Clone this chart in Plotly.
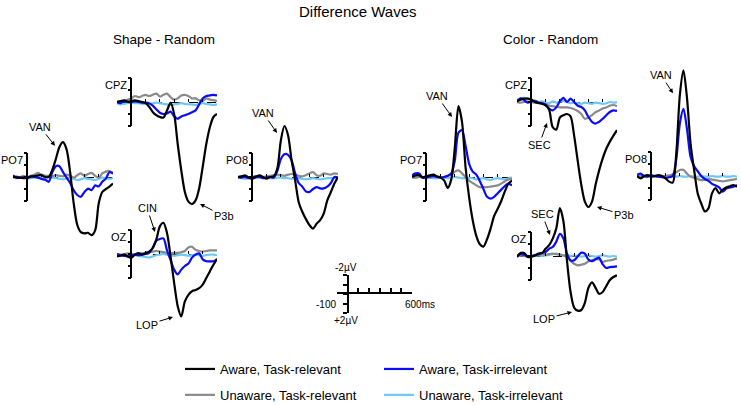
import plotly.graph_objects as go

W, H = 741, 406

# ---- data (µV, negative plotted upward as in ERP convention) ----
TIME_MS = [-100, -75, -50, -25, 0, 25, 50, 75, 100, 125, 150, 175, 200, 225,
           250, 275, 300, 325, 350, 375, 400, 425, 450, 475, 500, 525, 550, 575, 600]
TICKS_MS = [-100, 0, 100, 200, 300, 400, 500, 600]

# Shape - Random
shape_po7_ar = [0, 0.03, 0.05, 0.1, 0.08, -0.03, -0.08, -0.14, -0.14, 0, 0, -0.6, -1.5, -2.5, -2.9,
                -2.3, -0.4, 2.2, 4.0, 4.6, 4.7, 4.65, 4.85, 4.45, 2.2, 1.25, 1.0, 0.8, 0.55]
shape_po7_ai = [-0.14, 0.05, 0.08, 0, 0.05, -0.05, 0, 0.05, 0.17, 0.22, 0.4, -0.4, -0.9, -0.9, -0.4,
                0.05, 0.5, 1.1, 1.5, 1.65, 1.25, 0.97, 1.1, 0.7, 0.78, 0.4, 0.14, -0.4, -0.28]
shape_po7_ur = [0, -0.05, 0, -0.1, 0.05, -0.1, -0.2, -0.35, -0.2, -0.1, -0.1, -0.05, -0.15, -0.1, -0.05,
                -0.2, -0.1, 0.05, -0.15, -0.3, -0.1, -0.25, -0.35, -0.1, 0.05, -0.3, -0.45, -0.5, -0.35]
shape_po7_ui = [0.05, 0.1, 0.05, 0, 0.1, 0.1, 0.05, 0.05, 0.1, 0.05, 0.0, 0.05, 0.1, 0.15, 0.2,
                0.1, 0.05, 0.15, 0.25, 0.2, 0.1, 0.15, 0.2, 0.25, 0.15, 0.05, 0.1, 0.15, 0.1]

shape_cpz_ar = [0, -0.08, -0.14, -0.03, -0.08, -0.14, -0.08, 0, 0.08, 0.4, 0.83, 1.1, 1.25, 1.3, 0.7,
                0.08, 1.0, 3.5, 5.7, 7.5, 8.3, 8.5, 8.2, 7.2, 5.4, 3.5, 2.1, 1.25, 1.0]
shape_cpz_ai = [0, 0.1, -0.1, 0, 0, -0.05, 0, 0.05, 0.05, 0.1, 0.3, 0.6, 0.9, 1.0, 0.95,
                0.8, 1.2, 1.4, 1.2, 1.1, 1.0, 0.85, 0.7, 0.2, -0.3, -0.5, -0.55, -0.6, -0.55]
shape_cpz_ur = [0.1, 0, -0.1, -0.2, -0.3, -0.5, -0.4, -0.5, -0.6, -0.5, -0.6, -0.7, -0.45, -0.6, -0.7,
                -0.4, -0.2, -0.3, -0.55, -0.6, -0.5, -0.3, -0.3, -0.15, -0.1, -0.3, -0.2, -0.15, -0.1]
shape_cpz_ui = [0.1, 0.2, 0.15, 0.1, 0.05, 0.1, 0.1, 0.15, 0.15, 0.2, 0.1, 0.05, 0.1, 0.15, 0.2,
                0.25, 0.2, 0.15, 0.1, 0.15, 0.2, 0.2, 0.25, 0.15, 0.1, 0.15, 0.2, 0.25, 0.2]

shape_po8_ar = [0, -0.05, -0.14, 0.05, 0.14, 0, -0.14, 0, 0.14, 0, -0.05, -0.7, -3.05, -4.25, -3.5,
                -1.4, 0.28, 2.1, 2.9, 3.5, 4.0, 4.3, 3.9, 3.6, 3.05, 1.95, 1.25, 0.55, 0]
shape_po8_ai = [0, 0.05, 0, 0.1, 0.05, -0.05, 0, 0.1, 0.05, 0, 0.05, -0.5, -1.5, -1.9, -1.85,
                -1.4, -0.3, 0.5, 0.8, 1.2, 1.25, 1.0, 0.85, 0.95, 0.95, 0.8, 0.5, 0.0, 0.05]
shape_po8_ur = [0, -0.05, 0, 0.05, 0, -0.05, -0.1, 0, -0.05, -0.1, -0.15, -0.2, -0.15, -0.1, -0.2,
                -0.25, -0.2, -0.1, -0.05, -0.15, -0.3, -0.4, -0.15, -0.1, -0.3, -0.25, -0.2, -0.3, -0.25]
shape_po8_ui = [0.05, 0.1, 0.15, 0.1, 0.05, 0.1, 0.05, 0.0, 0.05, 0.1, 0.1, 0.05, 0.05, 0.1, 0.1,
                0.15, 0.1, 0.1, 0.15, 0.2, 0.15, 0.1, 0.15, 0.2, 0.15, 0.1, 0.1, 0.1, 0.05]

shape_oz_ar = [0.2, 0.15, 0.05, 0.2, 0.33, 0.05, -0.08, 0.05, -0.08, -0.2, -0.5, -1.2, -2.3, -2.6, -1.75,
               0.2, 2.4, 4.35, 5.2, 3.95, 3.4, 3.1, 3.0, 2.85, 2.55, 2.0, 1.45, 0.9, 0.4]
shape_oz_ai = [0, 0.1, 0.15, 0.2, 0.1, 0.05, 0.1, 0.05, 0, -0.1, -0.5, -1.1, -1.25, -1.3, -0.3,
               0.5, 1.3, 1.7, 1.3, 1.0, 0.8, 0.3, 0.05, -0.05, 0.45, 0.6, 0.62, 0.6, 0.47]
shape_oz_ur = [0, 0.05, 0, -0.05, 0, 0.05, 0, -0.05, -0.1, -0.15, -0.2, -0.25, -0.2, -0.15, -0.1,
               -0.05, -0.1, -0.1, -0.15, -0.25, -0.55, -0.6, -0.35, -0.25, -0.2, -0.25, -0.3, -0.3, -0.3]
shape_oz_ui = [0.05, 0.1, 0.15, 0.1, 0.05, 0.1, 0.15, 0.2, 0.25, 0.3, 0.2, 0.1, 0.05, 0.0, 0.05,
               0.1, 0.15, 0.1, 0.05, 0.1, 0.15, 0.1, 0.05, 0.1, 0.15, 0.1, 0.05, 0.05, 0.1]

# Color - Random
color_po7_ar = [0, -0.14, -0.14, 0.05, -0.05, -0.14, -0.2, -0.05, 0.05, 0.28, 0.9, 0.2, -2.5, -5.9, -4.6,
                -0.8, 1.7, 3.6, 4.9, 5.6, 5.8, 5.2, 4.3, 3.25, 2.65, 2.0, 1.2, 0.55, 0.3]
color_po7_ai = [-0.14, -0.3, -0.3, 0.05, 0.05, -0.05, -0.1, 0, 0.05, 0.0, -0.1, -0.3, -1.4, -3.7, -3.9,
                -2.6, -1.1, -0.45, -0.2, 0.35, 1.0, 1.65, 1.8, 1.65, 1.35, 1.05, 0.75, 0.55, 0.7]
color_po7_ur = [0, 0.05, 0, 0, -0.05, 0.05, 0, -0.05, 0, 0.0, -0.1, -0.2, -0.45, -0.55, -0.3,
                0.0, 0.3, 0.5, 0.7, 0.85, 0.85, 0.85, 0.8, 0.75, 0.7, 0.55, 0.35, 0.2, 0.15]
color_po7_ui = [0.05, 0.05, 0.0, 0.05, 0.1, 0.05, 0.1, 0.1, 0.05, 0.05, 0.1, 0.05, 0.0, 0.05, 0.1,
                0.1, 0.05, 0.1, 0.2, 0.15, 0.1, 0.2, 0.25, 0.15, 0.1, 0.15, 0.2, 0.1, 0.05]

color_cpz_ar = [-0.08, -0.2, -0.28, -0.28, -0.2, 0, 0.08, 0.14, 0.28, 0.65, 2.1, 2.3, 1.3, 1.1, 1.0,
                1.2, 2.8, 4.9, 6.9, 8.3, 8.75, 8.3, 6.9, 5.7, 4.7, 3.9, 3.3, 2.8, 2.35]
color_cpz_ai = [0, -0.3, -0.15, 0.05, -0.05, -0.1, 0.05, 0.1, 0.2, 0.55, 0.7, 0.45, -0.05, -0.35, 0.0,
                -0.28, 0.0, 0.3, 0.42, 0.7, 1.25, 1.65, 1.8, 1.65, 1.4, 1.1, 0.83, 0.7, 0.75]
color_cpz_ur = [0, 0.05, 0, -0.05, 0, 0.05, 0.1, 0.15, 0.2, 0.3, 0.35, 0.4, 0.45, 0.45, 0.45,
                0.5, 0.6, 0.75, 1.0, 1.4, 1.3, 1.1, 0.85, 0.7, 0.55, 0.45, 0.3, 0.25, 0.35]
color_cpz_ui = [-0.2, -0.3, -0.35, -0.3, -0.2, -0.1, 0.0, -0.05, 0.05, 0.1, -0.05, 0.05, 0.0, -0.1, 0.0,
                0.1, 0.05, 0.1, 0.15, 0.05, 0.1, 0.15, 0.05, 0.1, 0.15, 0.1, 0.0, 0.05, 0.0]

color_po8_ar = [0, 0.2, 0, -0.08, 0.05, 0, -0.08, 0, 0.2, 0.47, 0.55, -1.9, -6.75, -8.8, -6.5,
                -2.7, -0.5, 1.45, 2.3, 2.95, 2.7, 1.45, 1.0, 1.45, 1.15, 0.95, 0.85, 0.75, 0.9]
color_po8_ai = [-0.08, -0.2, 0.0, 0.05, -0.05, 0.0, 0.05, 0.1, 0.15, 0.1, 0.0, -1.4, -4.4, -5.6, -3.9,
                -1.6, -0.8, -0.4, 0.0, 0.25, 0.4, 0.65, 0.8, 0.95, 1.3, 1.05, 0.95, 0.9, 0.75]
color_po8_ur = [0, 0, 0.05, 0, -0.05, 0, 0.05, 0, 0, -0.05, -0.15, -0.3, -0.5, -0.5, -0.2,
                0.05, 0.15, 0.25, 0.35, 0.3, 0.25, 0.3, 0.35, 0.4, 0.45, 0.4, 0.35, 0.3, 0.25]
color_po8_ui = [0, 0.05, 0.05, 0, 0.05, 0.05, 0, 0.05, 0.05, 0.0, 0.05, 0.05, 0.0, 0.05, 0.05,
                0, 0.05, 0.05, 0.0, 0.05, 0.05, 0.0, 0.05, 0.05, 0.0, 0.05, 0.05, 0.0, 0.05]

color_oz_ar = [0.08, -0.25, -0.25, 0.08, 0.08, -0.05, -0.2, -0.25, -0.6, -0.9, -1.45, -2.3, -4.0, -2.9, 0.4,
               3.0, 4.3, 4.55, 4.5, 3.9, 2.65, 2.2, 2.65, 3.15, 3.0, 2.5, 2.0, 1.75, 1.6]
color_oz_ai = [0, -0.15, -0.1, 0.05, 0, -0.05, -0.15, -0.25, -0.33, -0.6, -0.75, -1.2, -1.85, -1.45, -0.2,
               0.36, 0.36, 0.03, -0.28, -0.2, 0.3, 0.42, 0.28, 0.14, 0.7, 1.0, 0.92, 0.9, 0.86]
color_oz_ur = [0, -0.05, 0, 0.05, 0, -0.05, -0.1, -0.15, -0.1, -0.15, -0.2, -0.15, -0.1, -0.05, 0.1,
               0.4, 0.65, 0.78, 0.72, 0.64, 0.45, 0.36, 0.25, 0.3, 0.5, 0.4, 0.36, 0.3, 0.22]
color_oz_ui = [0.05, -0.05, -0.1, 0.0, 0.05, 0.0, -0.05, 0.0, -0.05, -0.1, -0.15, -0.2, -0.15, -0.05, -0.05,
               0.0, -0.05, 0.0, 0.05, 0.0, -0.05, 0.0, 0.05, 0.0, -0.05, 0.0, 0.05, 0.0, 0.05]

CONDITIONS = ['Aware, Task-relevant', 'Aware, Task-irrelevant',
              'Unaware, Task-relevant', 'Unaware, Task-irrelevant']

# ---- layout constants ----
PX_UV = 12.0      # pixels per µV in the panels
PANEL_W = 100     # pixels for -100..600 ms
COLORS = {'ar': '#000000', 'ai': '#0a0aff', 'ur': '#8a8a8a', 'ui': '#6cc8f4'}

# label, left px, zero-line px, top µV, bottom µV, curves (ar, ai, ur, ui)
panels = [
    ('PO7', 13, 177, -5, 7, shape_po7_ar, shape_po7_ai, shape_po7_ur, shape_po7_ui),
    ('CPZ', 117, 102, -4, 10, shape_cpz_ar, shape_cpz_ai, shape_cpz_ur, shape_cpz_ui),
    ('PO8', 238, 177, -6, 7, shape_po8_ar, shape_po8_ai, shape_po8_ur, shape_po8_ui),
    ('OZ', 117, 254, -4, 7, shape_oz_ar, shape_oz_ai, shape_oz_ur, shape_oz_ui),
    ('PO7', 412, 177, -8, 8, color_po7_ar, color_po7_ai, color_po7_ur, color_po7_ui),
    ('CPZ', 517, 102, -4, 10, color_cpz_ar, color_cpz_ai, color_cpz_ur, color_cpz_ui),
    ('PO8', 637, 176, -10, 6, color_po8_ar, color_po8_ai, color_po8_ur, color_po8_ui),
    ('OZ', 517, 256, -6, 7, color_oz_ar, color_oz_ai, color_oz_ur, color_oz_ui),
]

# peak labels: panel index, text, tip time, tip µV, text offset px
peaks = [
    (0, 'VAN', 194, -2.6, -15, -19),
    (1, 'P3b', 481, 8.5, 24, 12),
    (2, 'VAN', 173, -3.67, -14, -20),
    (3, 'CIN', 166, -1.83, -8, -24),
    (3, 'LOP', 292, 5.25, -26, 8),
    (4, 'VAN', 180, -5.0, -15, -21),
    (5, 'SEC', 110, 1.75, -8, 22),
    (5, 'P3b', 460, 8.75, 27, 8),
    (6, 'VAN', 152, -6.9, -12, -18),
    (7, 'SEC', 131, -1.75, -8, -21),
    (7, 'LOP', 285, 4.67, -28, 7),
]


def px_x(px):
    return px / W


def px_y(py):
    return 1 - py / H


fig = go.Figure()
layout = {}
annotations = []

for i, (label, xl, zy, top, bot, ar, ai, ur, ui) in enumerate(panels):
    n = i + 1
    xa = 'x' if n == 1 else f'x{n}'
    ya = 'y' if n == 1 else f'y{n}'
    yb = f'y{n + 8}'
    xkey = 'xaxis' if n == 1 else f'xaxis{n}'
    ykey = 'yaxis' if n == 1 else f'yaxis{n}'
    bkey = f'yaxis{n + 8}'

    # draw order: light blue, gray, blue, black
    for key, vals, name, leg, rank in [('ui', ui, CONDITIONS[3], 'legend2', 2),
                                       ('ur', ur, CONDITIONS[2], 'legend', 2),
                                       ('ai', ai, CONDITIONS[1], 'legend2', 1),
                                       ('ar', ar, CONDITIONS[0], 'legend', 1)]:
        fig.add_trace(go.Scatter(
            x=TIME_MS, y=vals, mode='lines', name=name,
            line=dict(color=COLORS[key], width=2.2, shape='spline', smoothing=0.8),
            xaxis=xa, yaxis=ya, showlegend=(i == 0), legend=leg,
            legendgroup=key, legendrank=rank, hoverinfo='skip'))
    # empty trace so the ±2 µV bracket axis gets a subplot
    fig.add_trace(go.Scatter(x=[], y=[], xaxis=xa, yaxis=yb, showlegend=False))

    layout[xkey] = dict(domain=[px_x(xl), px_x(xl + PANEL_W)], range=[-100, 600],
                        anchor='free', position=px_y(zy), tickvals=TICKS_MS,
                        ticks='inside', ticklen=3, tickwidth=1, tickcolor='black',
                        showticklabels=False, showline=False, showgrid=False, zeroline=False)
    layout[ykey] = dict(domain=[px_y(zy + bot * PX_UV), px_y(zy + top * PX_UV)],
                        range=[bot, top], anchor=xa, tickvals=[0], showgrid=True,
                        griddash='dash', gridcolor='black', gridwidth=1,
                        showticklabels=False, ticks='', showline=False, zeroline=False)
    layout[bkey] = dict(domain=[px_y(zy + 2 * PX_UV), px_y(zy - 2 * PX_UV)], range=[2, -2],
                        anchor='free', position=px_x(xl + PANEL_W / 7),
                        tickvals=[-2, -1, 0, 1, 2], ticks='outside', ticklen=3, tickwidth=1.5,
                        tickcolor='black', showline=True, linecolor='black', linewidth=1.5,
                        showticklabels=False, showgrid=False, zeroline=False)

    annotations.append(dict(text=label, xref=xa, yref=yb, x=0, y=-1.45, xanchor='right',
                            yanchor='middle', xshift=-2, showarrow=False, font=dict(size=11)))

for idx, text, t, v, dx, dy in peaks:
    n = idx + 1
    xa = 'x' if n == 1 else f'x{n}'
    ya = 'y' if n == 1 else f'y{n}'
    annotations.append(dict(text=text, xref=xa, yref=ya, x=t, y=v, ax=dx, ay=dy,
                            showarrow=True, arrowhead=2, arrowsize=0.9, arrowwidth=1,
                            arrowcolor='black', font=dict(size=11)))

# scale bar
fig.add_trace(go.Scatter(x=[], y=[], xaxis='x9', yaxis='y17', showlegend=False))
layout['xaxis9'] = dict(domain=[px_x(337), px_x(412)], range=[-100, 600], anchor='free',
                        position=px_y(293), tickvals=TICKS_MS, ticks='inside', ticklen=4,
                        tickwidth=1.5, tickcolor='black', showline=True, linecolor='black',
                        linewidth=1.5, showticklabels=False, showgrid=False, zeroline=False)
layout['yaxis17'] = dict(domain=[px_y(313), px_y(275)], range=[2, -2], anchor='free',
                         position=px_x(347.5), tickvals=[-2, -1, 0, 1, 2], ticks='outside',
                         ticklen=4, tickwidth=1.5, tickcolor='black', showline=True,
                         linecolor='black', linewidth=1.5, showticklabels=False,
                         showgrid=False, zeroline=False)
for text, x, y, xa, ya, xs, ys in [('-2µV', 0, -2, 'center', 'bottom', -2, 0),
                                    ('+2µV', 0, 2, 'center', 'top', -2, 0),
                                    ('-100', -100, 0, 'right', 'top', 1, -3),
                                    ('600ms', 600, 0, 'left', 'top', -9, -3)]:
    annotations.append(dict(text=text, xref='x9', yref='y17', x=x, y=y, xanchor=xa,
                            yanchor=ya, xshift=xs, yshift=ys, showarrow=False,
                            font=dict(size=10)))

# titles
annotations += [
    dict(text='Difference Waves', xref='paper', yref='paper', x=px_x(358), y=px_y(11),
         xanchor='center', yanchor='middle', showarrow=False, font=dict(size=15)),
    dict(text='Shape - Random', xref='paper', yref='paper', x=px_x(164), y=px_y(39),
         xanchor='center', yanchor='middle', showarrow=False, font=dict(size=13.5)),
    dict(text='Color - Random', xref='paper', yref='paper', x=px_x(550), y=px_y(39),
         xanchor='center', yanchor='middle', showarrow=False, font=dict(size=13.5)),
]

legend_style = dict(xanchor='left', yanchor='top', font=dict(size=13), traceorder='grouped',
                    tracegroupgap=6, bgcolor='rgba(0,0,0,0)', borderwidth=0)

fig.update_layout(
    width=W, height=H, margin=dict(l=0, r=0, t=0, b=0, autoexpand=False),
    paper_bgcolor='white', plot_bgcolor='rgba(0,0,0,0)',
    font=dict(family='Liberation Sans, Arial, sans-serif', color='black'),
    annotations=annotations,
    legend=dict(x=px_x(180), y=px_y(354), **legend_style),
    legend2=dict(x=px_x(379), y=px_y(354), **legend_style),
    **layout,
)

# drop the browser's default page margin so the figure sits at the window origin
fig.write_html('out.html', config={'displayModeBar': False},
               post_script="document.body.style.margin='0';")
